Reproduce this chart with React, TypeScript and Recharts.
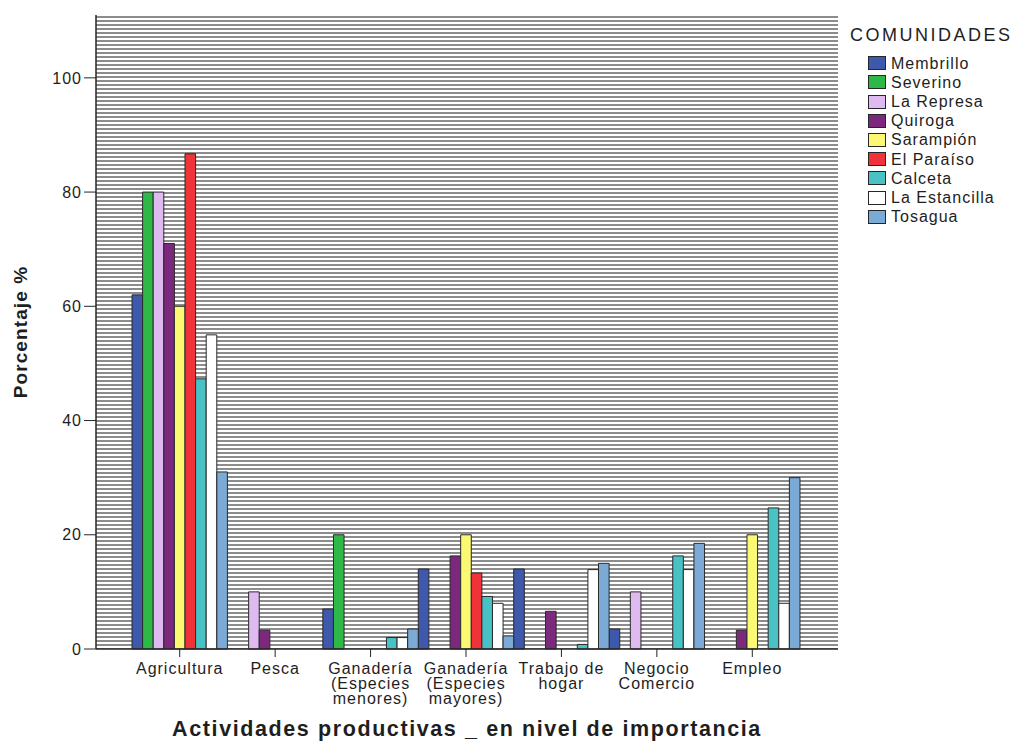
import { BarChart, Bar, XAxis, YAxis, CartesianGrid, Text } from "recharts";

// Activities (x categories) and the share of each community, in %
const categories = [
  "Agricultura",
  "Pesca",
  "Ganadería (Especies menores)",
  "Ganadería (Especies mayores)",
  "Trabajo de hogar",
  "Negocio Comercio",
  "Empleo",
];

const communities = [
  "Membrillo",
  "Severino",
  "La Represa",
  "Quiroga",
  "Sarampión",
  "El Paraíso",
  "Calceta",
  "La Estancilla",
  "Tosagua",
];

const membrillo = [62, 0, 7, 14, 14, 3.5, 0];
const severino = [80, 0, 20, 0, 0, 0, 0];
const laRepresa = [80, 10, 0, 0, 0, 10, 0];
const quiroga = [71, 3.3, 0, 16.3, 6.6, 0, 3.3];
const sarampion = [60, 0, 0, 20, 0, 0, 20];
const elParaiso = [86.7, 0, 0, 13.3, 0, 0, 0];
const calceta = [47.3, 0, 2, 9.2, 0.8, 16.3, 24.7];
const laEstancilla = [55, 0, 2, 8, 13.9, 13.9, 8];
const tosagua = [31, 0, 3.5, 2.3, 15, 18.5, 30];

const yTicks = [0, 20, 40, 60, 80, 100];

const seriesValues = [
  membrillo,
  severino,
  laRepresa,
  quiroga,
  sarampion,
  elParaiso,
  calceta,
  laEstancilla,
  tosagua,
];

const palette = [
  "#3e58ac",
  "#2eb848",
  "#dfbaf0",
  "#7c287d",
  "#fbf873",
  "#ef3338",
  "#48c2c5",
  "#ffffff",
  "#7aaad5",
];

const rows = categories.map((category, i) => {
  const row: Record<string, string | number> = { category };
  communities.forEach((name, s) => {
    row[name] = seriesValues[s][i];
  });
  return row;
});

const FONT = '"Liberation Sans", Arial, Helvetica, sans-serif';
const INK = "#1e1e1e";
const LINE = "#262626";

const tickStyle = { fontFamily: FONT, fontSize: 16, letterSpacing: "1px" };

function CategoryTick({ x, y, payload }: any) {
  return (
    <Text
      x={x}
      y={y}
      width={92}
      textAnchor="middle"
      verticalAnchor="start"
      lineHeight="15px"
      fill={INK}
      fontFamily={FONT}
      fontSize={16}
      style={tickStyle}
    >
      {payload.value}
    </Text>
  );
}

function XTitle({ viewBox }: any) {
  return (
    <text
      x={viewBox.x + viewBox.width / 2}
      y={viewBox.y + viewBox.height - 6}
      textAnchor="middle"
      fill={INK}
      fontFamily={FONT}
      fontSize={21.5}
      fontWeight="bold"
      letterSpacing="1.6px"
    >
      Actividades productivas _ en nivel de importancia
    </text>
  );
}

function YTitle({ viewBox }: any) {
  const cy = viewBox.y + viewBox.height / 2;
  const bx = 27;
  return (
    <text
      x={bx}
      y={cy}
      transform={`rotate(-90 ${bx} ${cy})`}
      textAnchor="middle"
      fill={INK}
      fontFamily={FONT}
      fontSize={19}
      fontWeight="bold"
      letterSpacing="1.1px"
    >
      Porcentaje %
    </text>
  );
}

function CommunityLegend() {
  return (
    <div
      style={{
        position: "absolute",
        left: 850,
        top: 24,
        fontFamily: FONT,
        color: INK,
      }}
    >
      <div style={{ fontSize: 18, lineHeight: "22px", letterSpacing: "2.5px" }}>
        COMUNIDADES
      </div>
      <div style={{ marginTop: 7.7 }}>
        {communities.map((name, s) => (
          <div
            key={name}
            style={{ display: "flex", alignItems: "center", height: 19.2 }}
          >
            <span
              style={{
                boxSizing: "border-box",
                marginLeft: 18,
                marginRight: 5,
                width: 18,
                height: 14,
                background: palette[s],
                border: `1.5px solid ${LINE}`,
              }}
            />
            <span
              style={{ fontSize: 16, lineHeight: "19.2px", letterSpacing: "1px" }}
            >
              {name}
            </span>
          </div>
        ))}
      </div>
    </div>
  );
}

export default function App() {
  return (
    <div
      style={{
        position: "absolute",
        left: 0,
        top: 0,
        width: 1016,
        height: 742,
        background: "#ffffff",
      }}
    >
      <BarChart
        width={1016}
        height={742}
        data={rows}
        margin={{ top: 15, right: 178, bottom: 0, left: 0 }}
        barCategoryGap={0}
        barGap={0}
        barSize={10.6}
      >
        <defs>
          <pattern
            id="plotStripes"
            patternUnits="userSpaceOnUse"
            width={8}
            height={4}
          >
            <rect width={8} height={4} fill="#ffffff" />
            <rect width={8} height={2} fill="#8c8c8c" />
          </pattern>
        </defs>
        <CartesianGrid
          horizontal={false}
          vertical={false}
          fill="url(#plotStripes)"
        />
        <XAxis
          dataKey="category"
          interval={0}
          height={93}
          padding={{ left: 36, right: 38 }}
          tickSize={8}
          tickMargin={6}
          tickLine={{ stroke: LINE }}
          axisLine={{ stroke: LINE, strokeWidth: 1.5 }}
          tick={<CategoryTick />}
          label={{ content: <XTitle /> }}
        />
        <XAxis
          xAxisId="frame"
          orientation="top"
          dataKey="category"
          height={0}
          tick={false}
          tickLine={false}
          axisLine={{ stroke: LINE, strokeWidth: 1.5 }}
        />
        <YAxis
          domain={[0, 111]}
          ticks={yTicks}
          width={96}
          tickSize={12}
          tickMargin={2}
          tickLine={{ stroke: LINE }}
          axisLine={{ stroke: LINE, strokeWidth: 1.5 }}
          tick={{ fill: INK, fontFamily: FONT, fontSize: 16, letterSpacing: "1px" }}
          label={{ content: <YTitle /> }}
        />
        <YAxis
          yAxisId="frame"
          orientation="right"
          width={0}
          tick={false}
          tickLine={false}
          axisLine={{ stroke: LINE, strokeWidth: 1.5 }}
        />
        {communities.map((name, s) => (
          <Bar
            key={name}
            dataKey={name}
            name={name}
            fill={palette[s]}
            stroke="#2a2a2a"
            strokeWidth={1}
            isAnimationActive={false}
          />
        ))}
      </BarChart>
      <CommunityLegend />
    </div>
  );
}
